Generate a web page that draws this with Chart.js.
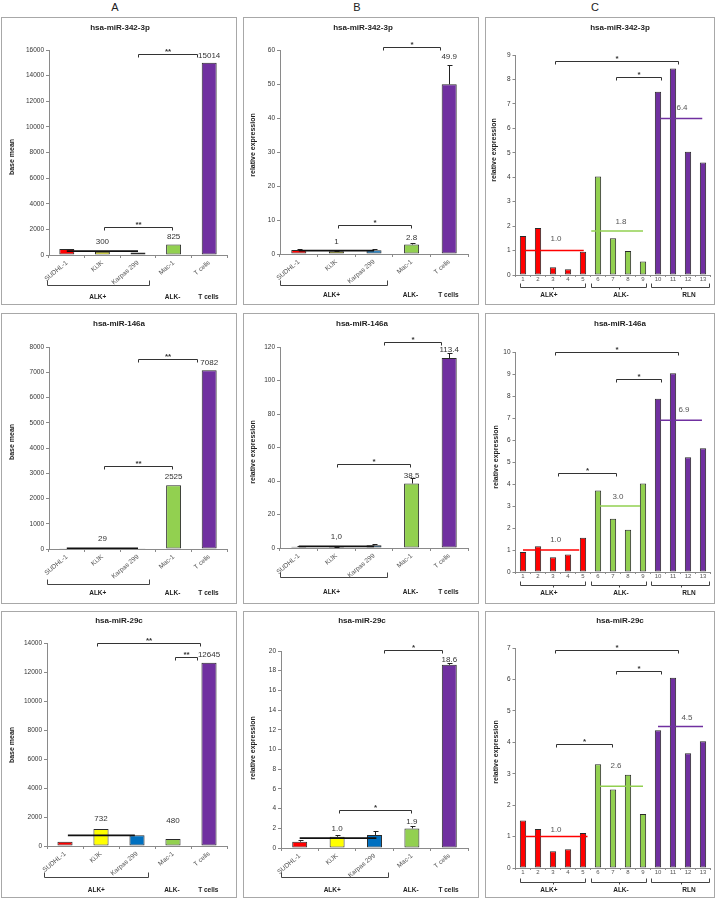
<!DOCTYPE html>
<html><head><meta charset="utf-8">
<script src="https://cdn.jsdelivr.net/npm/chart.js@4.4.1/dist/chart.umd.min.js"></script>
<style>
html,body{margin:0;padding:0;background:#fff;}
#fig{position:relative;width:718px;height:900px;overflow:hidden;font-family:"Liberation Sans",Arial,sans-serif;background:#fff;}
.hdr{position:absolute;top:0;width:30px;text-align:center;font-size:11px;line-height:14px;color:#222;}
.box{position:absolute;border:1px solid #a8a8a8;box-sizing:border-box;}
.box canvas{position:absolute;left:0;top:0;}
</style></head><body>
<div id="fig">
<div class="hdr" style="left:100px">A</div>
<div class="hdr" style="left:342px">B</div>
<div class="hdr" style="left:580px">C</div>
</div>
<script>
// ---------- data ----------
const cellLines = ['SUDHL-1', 'KiJK', 'Karpas 299', 'Mac-1', 'T cells'];
const caseNumbers = ['1','2','3','4','5','6','7','8','9','10','11','12','13'];
const cellGroups = ['ALK+', 'ALK-', 'T cells'];
const caseGroups = ['ALK+', 'ALK-', 'RLN'];

const baseMean342 = [460, 250, 190, 825, 15014];
const relExpr342 = [1.2, 0.8, 1.1, 2.8, 49.9];
const relExpr342Err = [0.2, 0.2, 0.25, 0.55, 5.8];
const caseExpr342 = [1.6, 1.92, 0.32, 0.24, 0.95, 4.03, 1.5, 0.98, 0.55, 7.5, 8.45, 5.04, 4.6];

const baseMean146 = [30, 25, 32, 2525, 7082];
const relExpr146 = [0.8, 0.6, 1.6, 38.5, 113.4];
const relExpr146Err = [0.2, 0.2, 0.8, 3, 3];
const caseExpr146 = [0.91, 1.17, 0.67, 0.79, 1.56, 3.71, 2.42, 1.92, 4.02, 7.88, 9.03, 5.22, 5.62];

const baseMean29c = [290, 1170, 740, 480, 12645];
const relExpr29c = [0.64, 1.14, 1.32, 1.99, 18.6];
const relExpr29cErr = [0.15, 0.22, 0.42, 0.22, 0.15];
const caseExpr29c = [1.51, 1.24, 0.53, 0.6, 1.11, 3.3, 2.5, 2.97, 1.72, 4.38, 6.05, 3.65, 4.03];

// ---------- styles ----------
const FONT = '"Liberation Sans", Arial, sans-serif';
const RED = '#ff0000', YEL = '#ffff00', BLU = '#0070c0', GRN = '#92d050', PUR = '#7030a0';
const cellColors = [RED, YEL, BLU, GRN, PUR];
const caseColors = [RED, RED, RED, RED, RED, GRN, GRN, GRN, GRN, PUR, PUR, PUR, PUR];
Chart.defaults.font.family = FONT;

const colBox = [{l:1, w:236}, {l:243, w:236}, {l:485, w:230}];
const rowBox = [{t:17, h:288}, {t:313, h:291}, {t:611, h:287}];

const groupA = {spans:[[-0.57, 2.3]], labels:[[cellGroups[0], 0.87], [cellGroups[1], 2.97], [cellGroups[2], 3.98]], curly:false};
const groupB = {spans:[[-0.5, 2.35]], labels:[[cellGroups[0], 0.87], [cellGroups[1], 2.97], [cellGroups[2], 3.98]], curly:false};
const groupC = {spans:[[-0.2, 4.13], [4.53, 8.2], [8.53, 12.4]], labels:[[caseGroups[0], 1.73], [caseGroups[1], 6.53], [caseGroups[2], 11.07]], curly:true};

const panels = [
 {col:0,row:0,title:'hsa-miR-342-3p',yTitle:'base mean',labels:cellLines,values:baseMean342,colors:cellColors,max:16000,step:2000,
  geo:[47,9,32,49],grp:groupA,grpOff:[30,42],titleXY:[118,10],yTitleXY:[10,139],barPct:0.42,
  means:[{value:300,from:0,to:2,at:1,textY:1040,text:'300',color:'#111'}],
  barLabels:[[3,'825',1400],[4,'15014',15550]],
  stars:[[2.0,3.66,15700,'**'],[1.05,2.95,2200,'**']]},
 {col:1,row:0,title:'hsa-miR-342-3p',yTitle:'relative expression',labels:cellLines,values:relExpr342,errors:relExpr342Err,colors:cellColors,max:60,step:10,
  geo:[36,10,32,50],grp:groupB,grpOff:[31,41],titleXY:[119,10],yTitleXY:[9,127],barPct:0.4,
  means:[{value:1,from:0,to:2,at:1,textY:3.6,text:'1',color:'#111'}],
  barLabels:[[3,'2.8',4.8],[4,'49.9',58.0]],
  stars:[[2.24,3.76,60.9,'*'],[1.04,2.98,8.5,'*']]},
 {col:2,row:0,title:'hsa-miR-342-3p',yTitle:'relative expression',labels:caseNumbers,values:caseExpr342,colors:caseColors,max:9,step:1,
  geo:[29.5,3.5,37,29],grp:groupC,grpOff:[12,20],titleXY:[134,10],yTitleXY:[8,132],barPct:0.42,case:true,
  means:[{value:1.0,from:-0.1,to:4.05,at:2.2,textY:1.47,text:'1.0',color:RED},
         {value:1.8,from:4.55,to:8.0,at:6.53,textY:2.17,text:'1.8',color:GRN},
         {value:6.4,from:9.15,to:11.95,at:10.6,textY:6.83,text:'6.4',color:PUR}],
  barLabels:[],
  stars:[[2.1,10.3,8.75,'*'],[6.2,9.2,8.1,'*']]},

 {col:0,row:1,title:'hsa-miR-146a',yTitle:'base mean',labels:cellLines,values:baseMean146,colors:cellColors,max:8000,step:1000,
  geo:[47,9,33,54],grp:groupA,grpOff:[35,44],titleXY:[117,10],yTitleXY:[10,128],barPct:0.42,
  means:[{value:29,from:0,to:2,at:1,textY:400,text:'29',color:'#111'}],
  barLabels:[[3,'2525',2840],[4,'7082',7355]],
  stars:[[2.0,3.66,7525,'**'],[1.05,2.95,3290,'**']]},
 {col:1,row:1,title:'hsa-miR-146a',yTitle:'relative expression',labels:cellLines,values:relExpr146,errors:relExpr146Err,colors:cellColors,max:120,step:20,
  geo:[36,10,33,55],grp:groupB,grpOff:[29,44],titleXY:[118,10],yTitleXY:[9,138],barPct:0.4,
  means:[{value:1.0,from:0,to:2,at:1,textY:6.7,text:'1,0',color:'#111'}],
  barLabels:[[3,'38.5',43.2],[4,'113.4',118.4]],
  stars:[[2.26,3.78,123,'*'],[1.02,2.96,50,'*']]},
 {col:2,row:1,title:'hsa-miR-146a',yTitle:'relative expression',labels:caseNumbers,values:caseExpr146,colors:caseColors,max:10,step:1,
  geo:[29.5,3.5,38,31],grp:groupC,grpOff:[13,21],titleXY:[134,10],yTitleXY:[10,143],barPct:0.42,case:true,
  means:[{value:1.0,from:0,to:3.75,at:2.18,textY:1.45,text:'1.0',color:RED},
         {value:3.0,from:5.1,to:7.8,at:6.33,textY:3.41,text:'3.0',color:GRN},
         {value:6.9,from:9.15,to:11.93,at:10.73,textY:7.36,text:'6.9',color:PUR}],
  barLabels:[],
  stars:[[2.1,10.3,10.0,'*'],[6.2,9.2,8.77,'*'],[2.3,6.2,4.5,'*']]},

 {col:0,row:2,title:'hsa-miR-29c',yTitle:'base mean',labels:cellLines,values:baseMean29c,colors:cellColors,max:14000,step:2000,
  geo:[45,9,31,51],grp:groupA,grpOff:[31,44],titleXY:[117,9],yTitleXY:[10,133],barPct:0.42,
  means:[{value:732,from:0.08,to:1.94,at:1,textY:1862,text:'732',color:'#111'}],
  barLabels:[[3,'480',1745],[4,'12645',13170]],
  stars:[[0.88,3.75,14000,'**'],[3.06,3.66,13014,'**']]},
 {col:1,row:2,title:'hsa-miR-29c',yTitle:'relative expression',labels:cellLines,values:relExpr29c,errors:relExpr29cErr,colors:cellColors,max:20,step:2,
  geo:[37,10,39,49],grp:groupB,grpOff:[29,42],titleXY:[118,9],yTitleXY:[9,136],barPct:0.4,
  means:[{value:1.0,from:0,to:2.05,at:1,textY:1.9,text:'1.0',color:'#111'}],
  barLabels:[[3,'1.9',2.65],[4,'18.6',19.15]],
  stars:[[2.26,3.8,20.1,'*'],[1.05,2.98,3.85,'*']]},
 {col:2,row:2,title:'hsa-miR-29c',yTitle:'relative expression',labels:caseNumbers,values:caseExpr29c,colors:caseColors,max:7,step:1,
  geo:[29.5,3.5,36,29],grp:groupC,grpOff:[14,22],titleXY:[134,9],yTitleXY:[10,140],barPct:0.42,case:true,
  means:[{value:1.0,from:0,to:4.3,at:2.2,textY:1.23,text:'1.0',color:RED},
         {value:2.6,from:5.1,to:8.0,at:6.2,textY:3.26,text:'2.6',color:GRN},
         {value:4.5,from:9.0,to:12.0,at:10.93,textY:4.77,text:'4.5',color:PUR}],
  barLabels:[],
  stars:[[2.1,10.3,6.95,'*'],[6.2,9.2,6.27,'*'],[2.2,5.9,3.95,'*']]}
];

function makeAnnot(p) {
  return {
    id: 'annot',
    afterDatasetsDraw(chart) {
      const ctx = chart.ctx, xs = chart.scales.x, ys = chart.scales.y, ca = chart.chartArea;
      const X = i => xs.getPixelForValue(i);
      const Y = v => ys.getPixelForValue(v);
      const h = v => Math.round(v) + 0.5;
      const txt = (s, x, y, font, color, align, base) => {
        ctx.font = font; ctx.fillStyle = color; ctx.textAlign = align || 'center'; ctx.textBaseline = base || 'middle';
        ctx.fillText(s, x, y);
      };
      ctx.save();
      // error bars
      if (p.errors) {
        ctx.strokeStyle = '#222'; ctx.lineWidth = 1;
        p.values.forEach((v, i) => {
          const e = p.errors[i]; if (!e) return;
          const x = h(X(i)), y0 = Y(v), y1 = h(Y(v + e));
          ctx.beginPath(); ctx.moveTo(x, y0); ctx.lineTo(x, y1);
          ctx.moveTo(x - 2, y1); ctx.lineTo(x + 3, y1); ctx.stroke();
        });
      }
      // mean lines
      p.means.forEach(m => {
        ctx.strokeStyle = m.color; ctx.lineWidth = 1.6;
        const y = Y(m.value);
        ctx.beginPath(); ctx.moveTo(X(m.from), y); ctx.lineTo(X(m.to), y); ctx.stroke();
        txt(m.text, X(m.at), Y(m.textY), '8px ' + FONT, p.case ? '#555' : '#333');
      });
      // bar value labels
      p.barLabels.forEach(b => txt(b[1], X(b[0]), Y(b[2]), '8px ' + FONT, '#333'));
      // significance brackets
      ctx.strokeStyle = '#333'; ctx.lineWidth = 1;
      p.stars.forEach(s => {
        const x0 = h(X(s[0])), x1 = h(X(s[1])), y = h(Y(s[2]));
        ctx.beginPath(); ctx.moveTo(x0, y + 3); ctx.lineTo(x0, y); ctx.lineTo(x1, y); ctx.lineTo(x1, y + 3); ctx.stroke();
        txt(s[3], (x0 + x1) / 2, y - 1, 'bold 8px ' + FONT, '#333', 'center', 'alphabetic');
      });
      // group brackets below the axis
      const g = p.grp, by = h(ca.bottom + p.grpOff[0]);
      const rise = g.curly ? 4 : 5;
      ctx.strokeStyle = '#444'; ctx.lineWidth = 1;
      g.spans.forEach(sp => {
        const x0 = h(X(sp[0])), x1 = h(X(sp[1]));
        ctx.beginPath();
        ctx.moveTo(x0, by - rise); ctx.lineTo(x0, by); ctx.lineTo(x1, by); ctx.lineTo(x1, by - rise);
        if (g.curly) { const xm = h((x0 + x1) / 2); ctx.moveTo(xm, by); ctx.lineTo(xm, by + 2); }
        ctx.stroke();
      });
      g.labels.forEach(l => txt(l[0], X(l[1]), ca.bottom + p.grpOff[1], 'bold 6.5px ' + FONT, '#222'));
      // chart title
      txt(p.title, p.titleXY[0], p.titleXY[1], 'bold 8px ' + FONT, '#222');
      // y axis title
      ctx.save();
      ctx.translate(p.yTitleXY[0], p.yTitleXY[1]);
      ctx.rotate(-Math.PI / 2);
      txt(p.yTitle, 0, 0, 'bold 7px ' + FONT, '#222');
      ctx.restore();
      ctx.restore();
    }
  };
}

const fig = document.getElementById('fig');
panels.forEach(p => {
  const cb = colBox[p.col], rb = rowBox[p.row];
  const box = document.createElement('div');
  box.className = 'box';
  box.style.left = cb.l + 'px'; box.style.top = rb.t + 'px';
  box.style.width = cb.w + 'px'; box.style.height = rb.h + 'px';
  const cv = document.createElement('canvas');
  const W = cb.w - 2, H = rb.h - 2;
  cv.width = W; cv.height = H; cv.style.width = W + 'px'; cv.style.height = H + 'px';
  box.appendChild(cv); fig.appendChild(box);
  const [yW, padR, padT, xH] = p.geo;
  new Chart(cv.getContext('2d'), {
    type: 'bar',
    data: {labels: p.labels, datasets: [{data: p.values, backgroundColor: p.colors, borderColor: '#2a2a2a', borderWidth: 1,
      barPercentage: p.barPct, categoryPercentage: 1, borderSkipped: false}]},
    options: {
      responsive: false, animation: false, events: [], devicePixelRatio: 1,
      layout: {padding: {left: 0, top: padT, right: padR, bottom: 0}},
      plugins: {legend: {display: false}, tooltip: {enabled: false}, title: {display: false}},
      scales: {
        x: {
          grid: {display: true, drawOnChartArea: false, drawTicks: true, tickLength: p.case ? 2 : 3, color: '#8a8a8a', offset: true},
          border: {color: '#8a8a8a'},
          ticks: p.case
            ? {autoSkip: false, maxRotation: 0, minRotation: 0, padding: -1, font: {size: 6}, color: '#555'}
            : {autoSkip: false, maxRotation: 40, minRotation: 40, padding: 1, font: {size: 6.5}, color: '#555'},
          afterFit: s => { s.height = xH; }
        },
        y: {
          min: 0, max: p.max,
          grid: {display: true, drawOnChartArea: false, drawTicks: true, tickLength: 3, color: '#8a8a8a'},
          border: {color: '#8a8a8a'},
          ticks: {stepSize: p.step, padding: 2, font: {size: 6.5}, color: '#333', callback: v => String(v)},
          afterFit: s => { s.width = yW; }
        }
      }
    },
    plugins: [makeAnnot(p)]
  });
});
</script>
</body></html>
